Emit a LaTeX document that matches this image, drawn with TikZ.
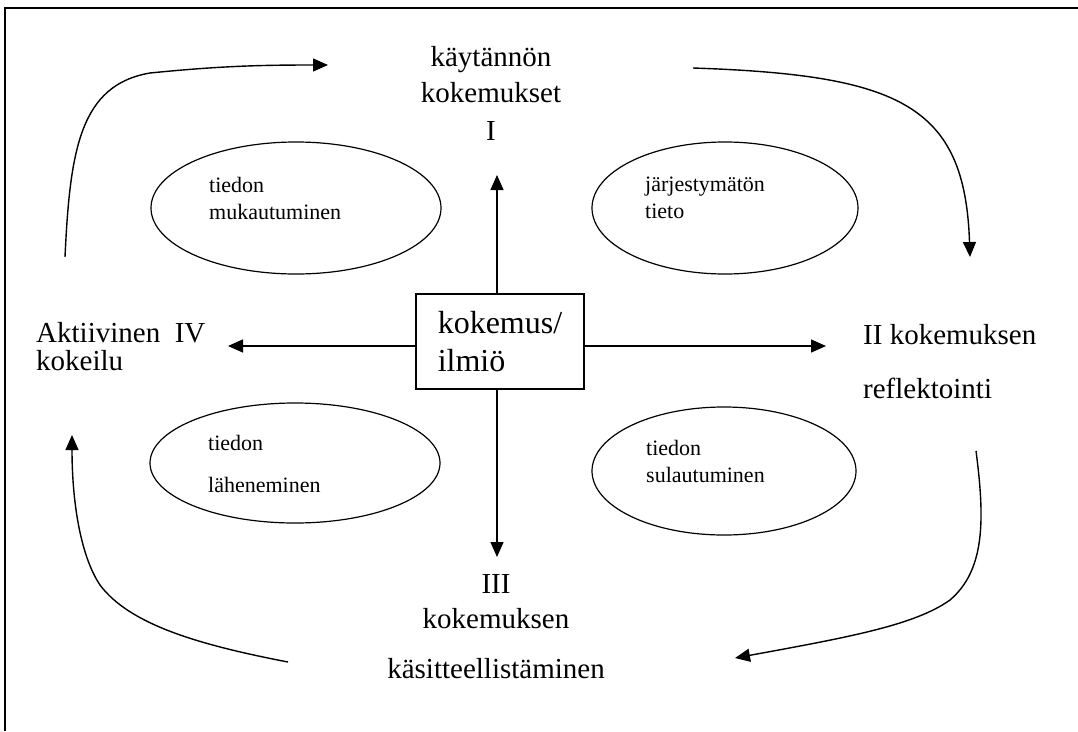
\documentclass[tikz,border=0pt]{standalone}
\usepackage{fontspec}
\setmainfont{Liberation Serif}
\usetikzlibrary{arrows.meta,shapes.geometric}
\begin{document}
\begin{tikzpicture}[x=1pt,y=-1pt,
  arr/.style={line width=1.4pt,-{Triangle[length=15pt,width=13pt]}},
  oval/.style={draw,ellipse,line width=1.2pt,inner sep=0pt},
  bigtext/.style={inner sep=0pt,font=\fontsize{29}{36}\selectfont},
  smalltext/.style={inner sep=0pt,align=left,anchor=north west,font=\fontsize{22}{27}\selectfont},
  boxnode/.style={draw,line width=1.2pt,minimum width=168pt,minimum height=95pt,inner sep=0pt,align=left,font=\fontsize{32}{38}\selectfont}]
\useasboundingbox (0,0) rectangle (1078,731);
\fill[white] (0,0) rectangle (1078,731);
% frame
\draw[line width=1.2pt] (5,731) -- (5,8) -- (1078,8);

% central box
\node[boxnode] (box) at (500,341.5) {kokemus/\\ilmiö};

% labels
\node[bigtext,align=center,anchor=north] (top) at (491,46) {käytännön\\kokemukset\\[2pt]I};
\node[bigtext,align=left,anchor=north west,font=\fontsize{29}{28}\selectfont] (left) at (36,322) {Aktiivinen\ \ IV\\kokeilu};
\node[bigtext,align=left,anchor=north west,font=\fontsize{29}{54}\selectfont] (right) at (863,324) {II kokemuksen\\reflektointi};
\node[bigtext,align=center,anchor=north,font=\fontsize{29}{35}\selectfont] (bottom) at (496,574) {III\\kokemuksen\\[15pt]käsitteellistäminen};

% ellipses
\node[oval,minimum width=290pt,minimum height=132pt] (e1) at (296,208) {};
\node[oval,minimum width=266pt,minimum height=132pt] (e2) at (725,208) {};
\node[oval,minimum width=290pt,minimum height=120pt] (e3) at (295,463) {};
\node[oval,minimum width=264pt,minimum height=128pt] (e4) at (724,471) {};
\node[smalltext] (t1) at (209,177) {tiedon\\mukautuminen};
\node[smalltext] (t2) at (645,177) {järjestymätön\\tieto};
\node[smalltext,font=\fontsize{22}{42}\selectfont] (t3) at (208,435) {tiedon\\läheneminen};
\node[smalltext] (t4) at (646,440) {tiedon\\sulautuminen};

% arrow tips
\coordinate (upT) at (497,175);
\coordinate (downT) at (497,557);
\coordinate (leftT) at (228,346);
\coordinate (rightT) at (826,346);
\draw[arr] (box.north -| upT) -- (upT);
\draw[arr] (box.south -| downT) -- (downT);
\draw[arr] (box.west |- leftT) -- (leftT);
\draw[arr] (box.east |- rightT) -- (rightT);

% cycle curves
\coordinate (c1s) at (65,257);
\coordinate (c1t) at (328,65);
\coordinate (c2s) at (693,68);
\coordinate (c2t) at (970,257);
\coordinate (c3s) at (976,451);
\coordinate (c3t) at (735,658);
\coordinate (c4s) at (288,662);
\coordinate (c4t) at (72,435);
\draw[arr] (c1s) .. controls (70,150) and (80,85) .. (150,73) .. controls (220,66) and (260,65) .. (c1t);
\draw[arr] (c2s) .. controls (900,75) and (965,105) .. (c2t);
\draw[arr] (c3s) .. controls (985,520) and (985,570) .. (950,600) .. controls (915,625) and (850,637) .. (c3t);
\draw[arr] (c4s) .. controls (200,645) and (130,625) .. (100,585) .. controls (80,555) and (72,500) .. (c4t);
\end{tikzpicture}
\end{document}
